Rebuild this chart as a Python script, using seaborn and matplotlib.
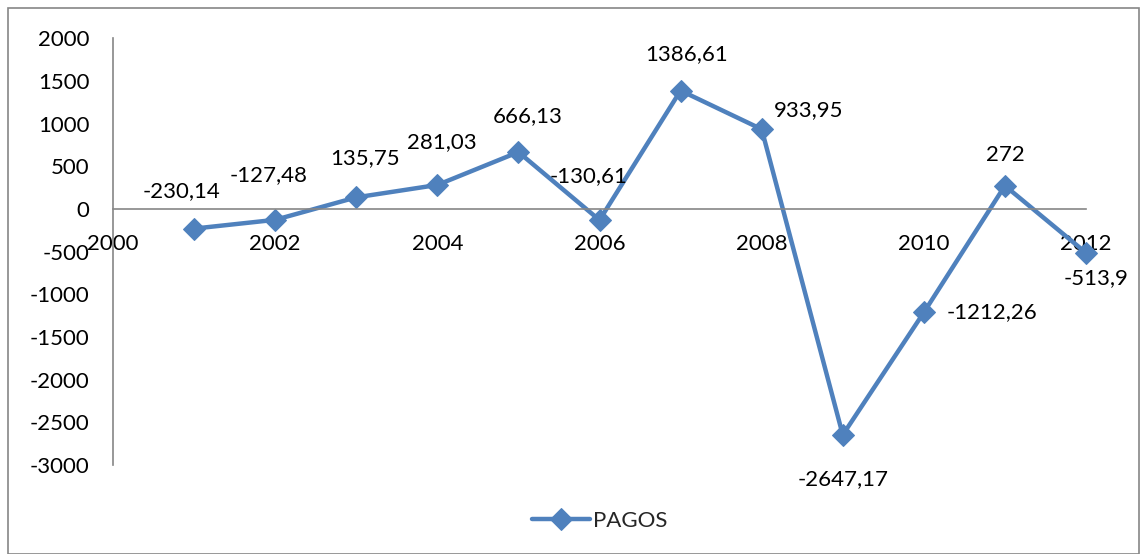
import matplotlib
matplotlib.use("Agg")
import matplotlib.pyplot as plt
import seaborn as sns
import pandas as pd
from matplotlib.patches import Rectangle

# data
years = [2001, 2002, 2003, 2004, 2005, 2006, 2007, 2008, 2009, 2010, 2011, 2012]
pagos = [-230.14, -127.48, 135.75, 281.03, 666.13, -130.61, 1386.61, 933.95,
         -2647.17, -1212.26, 272, -513.9]
labels = ["-230,14", "-127,48", "135,75", "281,03", "666,13", "-130,61", "1386,61",
          "933,95", "-2647,17", "-1212,26", "272", "-513,9"]
# label offsets in points (dx, dy)
offsets = [(-9, 27), (-5, 32), (6, 28), (3, 31), (7, 26), (-8, 32), (4, 26),
           (34, 14), (0, -32), (49, 0), (0, 22), (7, -18)]

df = pd.DataFrame({"Year": years, "PAGOS": pagos})

sns.set_theme(style="white")
plt.rcParams["font.family"] = ["Lato", "DejaVu Sans"]
plt.rcParams["axes.unicode_minus"] = False

fig = plt.figure(figsize=(11.44, 5.54), dpi=100)
ax = fig.add_axes([0.0988, 0.1606, 0.8505, 0.7704])

blue = "#4F81BD"
sns.lineplot(data=df, x="Year", y="PAGOS", ax=ax, color=blue, linewidth=3.2,
             marker="D", markersize=11, markeredgecolor=blue, label="PAGOS")
for ln in ax.lines:
    ln.set_clip_on(False)

for x, y, t, (dx, dy) in zip(years, pagos, labels, offsets):
    ax.annotate(t, (x, y), xytext=(dx, dy), textcoords="offset points",
                ha="center", va="center", fontsize=16, color="black")

ax.set_xlim(2000, 2012)
ax.set_ylim(-3000, 2000)
ax.set_xticks([2000, 2002, 2004, 2006, 2008, 2010, 2012])
ax.set_yticks(range(-3000, 2001, 500))
ax.set_xlabel("")
ax.set_ylabel("")

for s in ["top", "right"]:
    ax.spines[s].set_visible(False)
ax.spines["bottom"].set_position(("data", 0))
ax.spines["left"].set_position(("data", 2000))
for s in ["bottom", "left"]:
    ax.spines[s].set_color("#868686")
    ax.spines[s].set_linewidth(1.2)

ax.tick_params(axis="both", length=0, labelsize=16, colors="black")
ax.tick_params(axis="x", pad=18)
ax.tick_params(axis="y", pad=17)

ax.legend(loc="upper center", bbox_to_anchor=(0.5, -0.06), frameon=False,
          fontsize=16, handlelength=2.6, handletextpad=0.15)

fig.add_artist(Rectangle((0.007, 0.0), 0.989, 0.985, transform=fig.transFigure,
                         fill=False, edgecolor="#868686", linewidth=1.2))

fig.savefig("out.png", dpi=100)
